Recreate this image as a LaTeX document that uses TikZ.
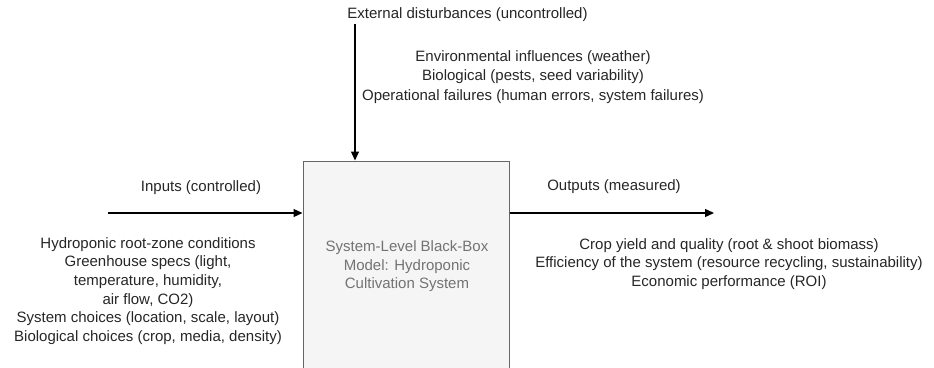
\documentclass[tikz,border=0pt]{standalone}
\usepackage{fontspec}
\setmainfont{Liberation Sans}
\usetikzlibrary{arrows.meta}
\begin{document}
\begin{tikzpicture}[x=1pt,y=-1pt,
  lbl/.style={font=\fontsize{15}{18.6}\selectfont, text=black!85, align=center, inner sep=0pt},
  flow/.style={line width=1.3pt, -{Triangle[length=9pt,width=8pt]}},
  sysbox/.style={draw=black!60, fill=black!4, line width=1pt, minimum width=206pt,
    minimum height=209pt, inner sep=0pt, text=black!55, align=center,
    font=\fontsize{15}{18.6}\selectfont}]
  \useasboundingbox (0,0) rectangle (934,367);
  \clip (0,0) rectangle (934,367);

  % the black box itself
  \node[sysbox] (box) at (406,265.5) {};
  \node[lbl, text=black!55] (boxText) at (407,266.5)
    {System-Level Black-Box\\Model: Hydroponic\\Cultivation System};

  % controlled inputs
  \coordinate (inStart) at (108,213);
  \draw[flow] (inStart) -- (inStart -| box.west);
  \node[lbl] (inTitle) at (201,188) {Inputs (controlled)};
  \node[lbl] (inList) at (148,291)
    {Hydroponic root-zone conditions\\Greenhouse specs (light,\\temperature, humidity,\\air flow, CO2)\\System choices (location, scale, layout)\\Biological choices (crop, media, density)};

  % measured outputs
  \coordinate (outEnd) at (714,213);
  \draw[flow] (outEnd -| box.east) -- (outEnd);
  \node[lbl] (outTitle) at (614,187) {Outputs (measured)};
  \node[lbl] (outList) at (729,264)
    {Crop yield and quality (root \& shoot biomass)\\Efficiency of the system (resource recycling, sustainability)\\Economic performance (ROI)};

  % uncontrolled disturbances
  \coordinate (distStart) at (355,24);
  \draw[flow] (distStart) -- (distStart |- box.north);
  \node[lbl] (distTitle) at (467.5,15) {External disturbances (uncontrolled)};
  \node[lbl, font=\fontsize{15}{19.6}\selectfont] (distList) at (533,77)
    {Environmental influences (weather)\\Biological (pests, seed variability)\\Operational failures (human errors, system failures)};
\end{tikzpicture}
\end{document}
